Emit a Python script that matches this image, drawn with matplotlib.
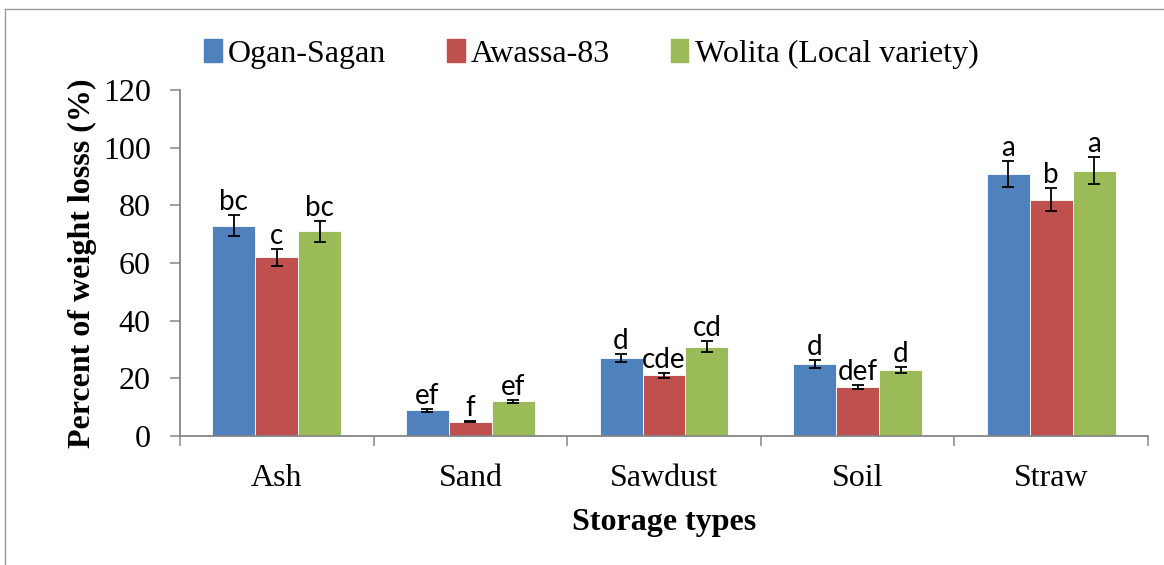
import matplotlib
matplotlib.use("Agg")
import matplotlib.pyplot as plt
import numpy as np
from matplotlib.patches import Rectangle
from matplotlib.lines import Line2D

categories = ["Ash", "Sand", "Sawdust", "Soil", "Straw"]
series_names = ["Ogan-Sagan", "Awassa-83", "Wolita (Local variety)"]
ogan = [73, 9, 27, 25, 91]
awassa = [62, 5, 21, 17, 82]
wolita = [71, 12, 31, 23, 92]
ogan_err = [3.8, 0.5, 1.5, 1.3, 4.5]
awassa_err = [3.0, 0.3, 1.0, 0.8, 4.0]
wolita_err = [3.6, 0.5, 1.8, 1.1, 4.6]
ogan_letters = ["bc", "ef", "d", "d", "a"]
awassa_letters = ["c", "f", "cde", "def", "b"]
wolita_letters = ["bc", "ef", "cd", "d", "a"]
yticks = [0, 20, 40, 60, 80, 100, 120]

colors = ["#4F81BD", "#C0504D", "#9BBB59"]
values = [ogan, awassa, wolita]
errs = [ogan_err, awassa_err, wolita_err]
letters = [ogan_letters, awassa_letters, wolita_letters]

serif = ["Liberation Serif", "DejaVu Serif"]
fs = 23

fig = plt.figure(figsize=(11.64, 5.65), dpi=100)
ax = fig.add_axes([0.1546, 0.2283, 0.9863 - 0.1546, 0.8407 - 0.2283])

n = len(categories)
centers = np.arange(n) + 0.5
bw = 0.222
for i in range(3):
    xs = centers + (i - 1) * bw
    ax.bar(xs, values[i], width=bw, color=colors[i], edgecolor="white",
           linewidth=0.6, label=series_names[i], zorder=2)
    ax.errorbar(xs, values[i], yerr=errs[i], fmt="none", ecolor="black",
                elinewidth=1.3, capsize=4, capthick=1.3, zorder=3)
    for x, v, e, t in zip(xs, values[i], errs[i], letters[i]):
        ax.annotate(t, (x, v + e), xytext=(0, 0), textcoords="offset points",
                    ha="center", va="bottom", fontsize=20, family=["Lato", "DejaVu Sans"])

ax.set_xlim(0, n)
ax.set_ylim(0, 120)
ax.set_yticks(yticks)
ax.set_yticklabels([str(v) for v in yticks], family=serif, fontsize=fs)
ax.set_xticks(np.arange(n + 1))
ax.set_xticklabels([""] * (n + 1))
ax.set_xticks(centers, minor=True)
ax.set_xticklabels(categories, minor=True, family=serif, fontsize=fs)
ax.tick_params(axis="x", which="major", length=7, width=1.1, color="#868686", direction="out")
ax.tick_params(axis="x", which="minor", length=0, pad=20)
ax.tick_params(axis="y", length=7, width=1.1, color="#868686", direction="out", pad=14)

for s in ["top", "right"]:
    ax.spines[s].set_visible(False)
for s in ["left", "bottom"]:
    ax.spines[s].set_color("#868686")
    ax.spines[s].set_linewidth(1.3)

ax.set_ylabel("Percent of weight losss (%)", family=serif, fontsize=fs, fontweight="bold", labelpad=4)
ax.set_xlabel("Storage types", family=serif, fontsize=fs, fontweight="bold", labelpad=11)

handles = [Rectangle((0, 0), 1, 1, color=c) for c in colors]
fig.legend(handles, series_names, loc="center", bbox_to_anchor=(0.508, 0.905),
           ncol=3, frameon=False, prop={"family": serif, "size": fs},
           handlelength=0.55, handleheight=0.75, handletextpad=0.2, columnspacing=1.9)

fig.add_artist(Line2D([5 / 1164, 5 / 1164], [0, 1 - 9 / 565], transform=fig.transFigure,
                      color="#9a9a9a", linewidth=1.0))
fig.add_artist(Line2D([5 / 1164, 1], [1 - 9 / 565, 1 - 9 / 565], transform=fig.transFigure,
                      color="#9a9a9a", linewidth=1.0))

fig.savefig("out.png", dpi=100)
